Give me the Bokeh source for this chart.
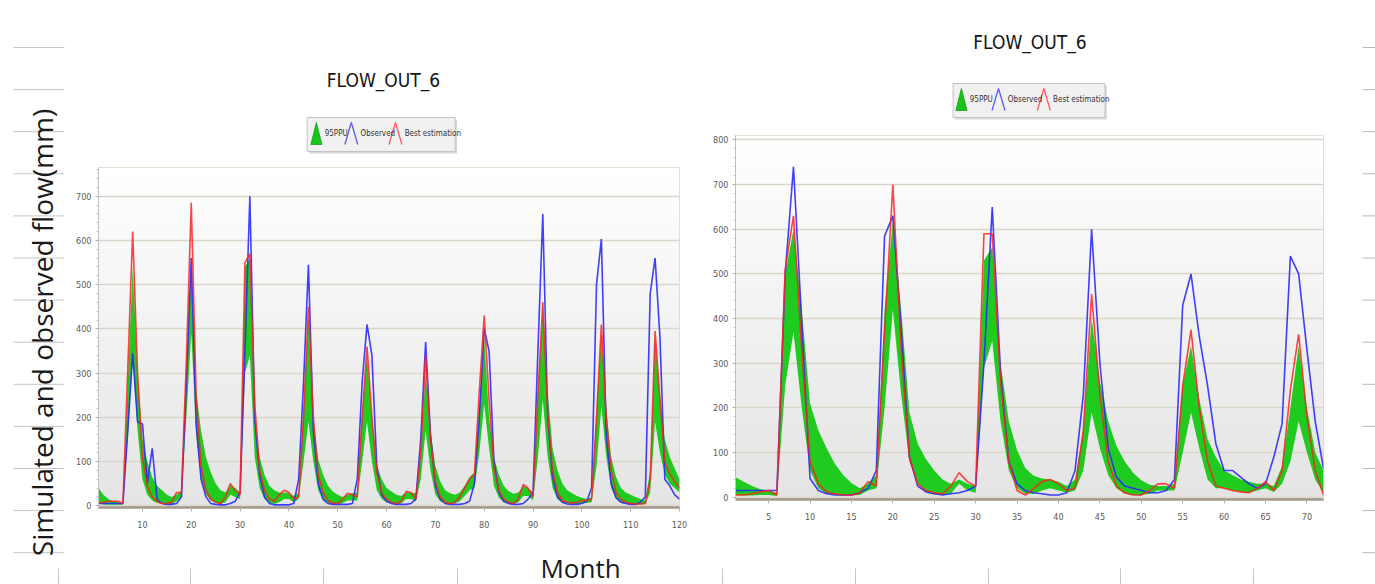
import math
import numpy as np
from bokeh.plotting import figure
from bokeh.layouts import row, column
from bokeh.models import Range1d, FixedTicker
from bokeh.embed import file_html
from bokeh.resources import INLINE
from bokeh.core.properties import value

# ---------------- data ----------------
TITLE = "FLOW_OUT_6"
LEGEND_LABELS = ["95PPU", "Observed", "Best estimation"]
Y_LABEL = "Simulated and observed flow(mm)"
X_LABEL = "Month"

left_months = list(range(1, 121))
left_observed = [5, 5, 5, 5, 5, 5, 170, 345, 190, 185, 50, 130,
                 15, 5, 3, 3, 5, 20, 280, 560, 185, 60, 20, 5,
                 3, 2, 2, 5, 10, 30, 350, 700, 200, 70, 20, 5,
                 2, 2, 2, 2, 5, 60, 280, 545, 170, 50, 15, 5,
                 3, 3, 3, 3, 5, 60, 280, 410, 340, 90, 25, 10,
                 5, 3, 3, 3, 5, 15, 150, 370, 160, 45, 15, 5,
                 3, 3, 3, 5, 10, 50, 200, 400, 350, 100, 30, 10,
                 5, 3, 3, 5, 15, 30, 350, 660, 200, 65, 20, 8,
                 4, 3, 3, 5, 10, 40, 500, 603, 160, 50, 18, 8,
                 5, 3, 3, 8, 20, 480, 560, 380, 60, 45, 25, 15]
left_best = [5, 8, 10, 10, 10, 5, 310, 620, 300, 110, 45, 20,
             10, 5, 5, 8, 30, 30, 330, 685, 250, 90, 35, 15,
             8, 5, 20, 50, 35, 25, 550, 570, 230, 80, 35, 15,
             10, 25, 35, 30, 15, 20, 200, 450, 200, 70, 30, 12,
             6, 5, 15, 28, 25, 20, 200, 360, 200, 75, 30, 15,
             8, 5, 10, 32, 30, 15, 120, 340, 150, 55, 20, 8,
             5, 8, 20, 40, 60, 70, 260, 430, 240, 85, 35, 15,
             8, 5, 15, 48, 40, 20, 250, 460, 210, 80, 30, 12,
             8, 6, 8, 12, 12, 15, 200, 410, 200, 80, 30, 15,
             8, 5, 4, 4, 5, 60, 395, 240, 100, 72, 55, 40]
left_ppu_low = [5, 3, 2, 2, 2, 2, 150, 340, 170, 60, 25, 12,
                6, 4, 3, 3, 10, 20, 200, 390, 160, 60, 25, 12,
                6, 4, 8, 25, 20, 15, 300, 340, 110, 40, 15, 6,
                4, 8, 15, 15, 8, 15, 100, 190, 100, 35, 12, 6,
                4, 3, 6, 12, 12, 12, 100, 190, 100, 35, 15, 8,
                5, 3, 5, 15, 15, 10, 60, 170, 80, 25, 10, 5,
                4, 5, 10, 22, 35, 40, 120, 230, 130, 45, 18, 8,
                5, 4, 8, 22, 22, 12, 110, 240, 110, 40, 15, 7,
                5, 4, 4, 6, 6, 8, 90, 225, 110, 40, 15, 7,
                5, 3, 3, 3, 4, 30, 190, 120, 70, 50, 40, 30]
left_ppu_high = [40, 25, 15, 10, 8, 6, 280, 540, 300, 150, 100, 65,
                 45, 35, 25, 20, 25, 35, 300, 540, 260, 170, 110, 75,
                 50, 35, 30, 45, 40, 30, 540, 560, 200, 110, 70, 45,
                 35, 30, 30, 28, 22, 30, 220, 420, 200, 105, 70, 45,
                 32, 25, 20, 25, 28, 30, 210, 340, 200, 90, 60, 40,
                 32, 25, 22, 30, 30, 28, 120, 300, 170, 90, 55, 35,
                 28, 25, 30, 45, 65, 75, 230, 380, 200, 110, 70, 45,
                 33, 27, 30, 45, 40, 30, 250, 450, 260, 130, 80, 50,
                 35, 28, 22, 18, 15, 20, 210, 390, 220, 110, 65, 40,
                 30, 25, 20, 15, 12, 80, 380, 250, 150, 110, 85, 60]

right_months = list(range(1, 73))
right_observed = [15, 15, 15, 15, 15, 15, 500, 740, 390, 42, 15, 8,
                  5, 5, 5, 10, 20, 60, 585, 630, 380, 90, 25, 12,
                  8, 5, 8, 10, 15, 25, 300, 650, 280, 80, 30, 15,
                  10, 8, 5, 5, 10, 60, 230, 600, 300, 110, 45, 25,
                  20, 15, 10, 10, 15, 40, 430, 500, 360, 250, 120, 60,
                  60, 45, 30, 20, 30, 90, 165, 540, 500, 330, 170, 65]
right_best = [5, 5, 8, 12, 15, 5, 510, 630, 330, 80, 30, 12,
              8, 5, 5, 10, 35, 25, 370, 700, 330, 90, 30, 15,
              10, 8, 25, 55, 35, 25, 590, 590, 260, 80, 15, 5,
              20, 35, 40, 30, 15, 20, 150, 455, 230, 80, 25, 10,
              5, 5, 15, 30, 30, 20, 250, 375, 200, 80, 25, 20,
              15, 12, 10, 20, 35, 15, 60, 240, 365, 180, 60, 5]
right_ppu_low = [5, 4, 4, 5, 5, 3, 250, 370, 200, 60, 20, 8,
                 5, 4, 4, 5, 15, 20, 200, 420, 230, 80, 30, 12,
                 6, 5, 8, 30, 15, 10, 290, 350, 170, 60, 20, 8,
                 8, 15, 20, 15, 10, 15, 60, 190, 110, 50, 20, 8,
                 5, 5, 8, 15, 15, 15, 100, 190, 110, 40, 20, 20,
                 15, 12, 10, 15, 20, 12, 30, 80, 170, 100, 40, 10]
right_ppu_high = [45, 35, 25, 18, 14, 10, 500, 600, 420, 210, 150, 110,
                  75, 50, 32, 20, 30, 50, 420, 620, 420, 190, 120, 85,
                  60, 40, 30, 40, 30, 25, 530, 560, 300, 170, 105, 65,
                  48, 42, 40, 35, 25, 40, 150, 400, 260, 170, 115, 80,
                  55, 38, 28, 25, 25, 30, 250, 340, 220, 130, 90, 60,
                  50, 40, 35, 30, 30, 25, 70, 200, 340, 200, 100, 60]

left_x_ticks = [10, 20, 30, 40, 50, 60, 70, 80, 90, 100, 110, 120]
left_y_ticks = [0, 100, 200, 300, 400, 500, 600, 700]
right_x_ticks = [5, 10, 15, 20, 25, 30, 35, 40, 45, 50, 55, 60, 65, 70]
right_y_ticks = [0, 100, 200, 300, 400, 500, 600, 700, 800]

# ---------------- styles ----------------
GREEN = "#1ecb1e"
BLUE = "#2a2aff"
RED = "#ff2222"
NARROW = "Liberation Sans Narrow, DejaVu Sans Condensed, Liberation Sans, sans-serif"
TEXT_FONT = "Open Sans"


def chart(months, obs, best, lo, hi, xr, yr, xticks, yticks, width, height, bl, br, bt, bb):
    p = figure(width=width, height=height, x_range=Range1d(*xr), y_range=Range1d(*yr),
               output_backend="svg", toolbar_location=None,
               min_border_left=bl, min_border_right=br, min_border_top=bt, min_border_bottom=bb)
    # background vertical gradient (white at top, light grey at bottom)
    n = 96
    img = np.empty((n, 1), dtype=np.uint32)
    view = img.view(dtype=np.uint8).reshape((n, 1, 4))
    for i in range(n):
        g = int(round(228 + 27 * i / (n - 1)))
        view[i, 0] = (g, g, g, 255)
    p.image_rgba(image=[img], x=xr[0], y=yr[0], dw=xr[1] - xr[0], dh=yr[1] - yr[0], level="image")

    p.varea(x=months, y1=lo, y2=hi, fill_color=GREEN, fill_alpha=1.0)
    p.line(months, obs, line_color=BLUE, line_width=1.6, line_alpha=0.9)
    p.line(months, best, line_color=RED, line_width=1.6, line_alpha=0.85)

    p.xgrid.visible = False
    p.ygrid.ticker = FixedTicker(ticks=yticks)
    p.ygrid.grid_line_color = "#dad5c8"
    p.ygrid.grid_line_width = 1.5

    p.xaxis.ticker = FixedTicker(ticks=xticks)
    minor = [t + d for t in yticks for d in (20, 40, 60, 80)]
    p.yaxis.ticker = FixedTicker(ticks=yticks, minor_ticks=minor)
    for ax in (p.xaxis[0], p.yaxis[0]):
        ax.major_label_text_font = NARROW
        ax.major_label_text_font_size = "9px"
        ax.major_label_text_color = "#5a5a5a"
        ax.major_tick_in = 0
        ax.minor_tick_in = 0
    p.xaxis.major_label_standoff = 9
    p.yaxis.major_label_standoff = 4
    p.xaxis.axis_line_color = "#a0968a"
    p.xaxis.axis_line_width = 2.5
    p.xaxis.major_tick_line_color = "#b0b0b0"
    p.xaxis.major_tick_out = 4
    p.xaxis.minor_tick_line_color = None
    p.yaxis.axis_line_color = "#c0c0c0"
    p.yaxis.major_tick_line_color = "#b0b0b0"
    p.yaxis.major_tick_out = 3
    p.yaxis.minor_tick_out = 2
    p.yaxis.minor_tick_line_color = "#c4c4c4"
    p.outline_line_color = "#ddd6c4"
    p.border_fill_color = "white"
    return p


def blank(width, height, xr, yr):
    f = figure(width=width, height=height, x_range=Range1d(*xr), y_range=Range1d(*yr),
               output_backend="svg", toolbar_location=None,
               x_axis_location=None, y_axis_location=None, min_border=0)
    f.grid.visible = False
    f.outline_line_color = None
    f.background_fill_color = "white"
    f.border_fill_color = "white"
    return f


def header(width, height, xr, yr, title_xy, box, icons, text_x, mid_y, half_h):
    h = blank(width, height, xr, yr)
    h.text(x=[title_xy[0]], y=[title_xy[1]], text=[TITLE], text_align="center",
           text_baseline="middle", text_font=value(NARROW), text_font_size="19px",
           text_color="#151515")
    l, r, t, b = box
    h.quad(left=[l + 2], right=[r + 2], top=[t + 2], bottom=[b + 2], fill_color="#d9d9d9",
           line_color=None)
    h.quad(left=[l], right=[r], top=[t], bottom=[b], fill_color="#f1f1f1",
           line_color="#c4c4c4", line_width=1)
    gx, bx, rx = icons
    h.patch([gx, gx + 6, gx + 12], [mid_y + half_h, mid_y - half_h, mid_y + half_h],
            fill_color="#18c418", line_color="#10a010", line_width=0.8)
    h.line([bx, bx + 7, bx + 14], [mid_y + half_h, mid_y - half_h, mid_y + half_h],
           line_color="#5a5aff", line_width=1.3)
    h.line([rx, rx + 7, rx + 14], [mid_y + half_h, mid_y - half_h, mid_y + half_h],
           line_color="#ff5a5a", line_width=1.3)
    h.text(x=text_x, y=[mid_y] * 3, text=LEGEND_LABELS, text_align="left",
           text_baseline="middle", text_font=value(NARROW), text_font_size="8px",
           text_color="#333333")
    return h


# ---------------- charts ----------------
left_chart = chart(left_months, left_observed, left_best, left_ppu_low, left_ppu_high,
                   (1, 120), (-4, 765), left_x_ticks, left_y_ticks,
                   632, 380, 21, 26, 7, 33)
right_chart = chart(right_months, right_observed, right_best, right_ppu_low, right_ppu_high,
                    (1, 72), (-5, 810), right_x_ticks, right_y_ticks,
                    635, 412, 30, 17, 7, 41)

left_header = header(632, 160, (73, 705), (160, 0), (383, 79), (300, 461, 117, 151),
                     (304, 341, 389), [319, 358, 406], 133, 11)
right_header = header(635, 128, (705, 1340), (128, 0), (1023, 41), (940, 1104, 83, 117),
                      (943, 982, 1031), [958, 999, 1048], 99, 11)

# ---------------- page decorations ----------------
deco_ys = [47 + 42.1 * k for k in range(13)]

left_strip = blank(73, 584, (0, 73), (584, 0))
left_strip.segment(x0=[13] * 13, x1=[64] * 13, y0=deco_ys, y1=deco_ys,
                   line_color="#c6c6c6", line_width=1)
left_strip.segment(x0=[58], x1=[58], y0=[568], y1=[584], line_color="#c6c6c6", line_width=1)
left_strip.text(x=[41], y=[332], text=[Y_LABEL], angle=math.pi / 2, text_align="center",
                text_baseline="middle", text_font=value(TEXT_FONT), text_font_size="28px",
                text_color="#1a1a1a")

right_strip = blank(35, 584, (1340, 1375), (584, 0))
right_strip.segment(x0=[1362] * 13, x1=[1375] * 13, y0=deco_ys, y1=deco_ys,
                    line_color="#b8b8b8", line_width=1)

bottom_strip = blank(1267, 44, (73, 1340), (584, 540))
bx = [190, 323, 457, 722, 855, 988, 1120, 1253]
bottom_strip.segment(x0=bx, x1=bx, y0=[568] * len(bx), y1=[584] * len(bx),
                     line_color="#c6c6c6", line_width=1)
bottom_strip.text(x=[580], y=[567], text=[X_LABEL], text_align="center",
                  text_baseline="middle", text_font=value(TEXT_FONT), text_font_size="26px",
                  text_color="#1a1a1a")

layout = row(left_strip,
             column(row(column(left_header, left_chart), column(right_header, right_chart)),
                    bottom_strip),
             right_strip)

open("out.html", "w").write(file_html(layout, INLINE))
